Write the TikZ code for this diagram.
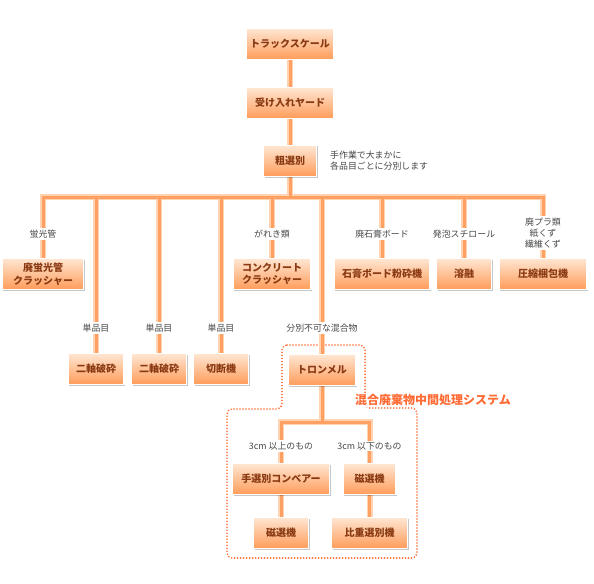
\documentclass[tikz,border=0pt]{standalone}
\usepackage{fontspec}
\setmainfont{Noto Sans CJK JP}
\usetikzlibrary{shadows}
\definecolor{lnLight}{HTML}{FFD2B2}
\definecolor{lnCore}{HTML}{FFA063}
\definecolor{boxTop}{HTML}{FFE6D2}
\definecolor{boxBot}{HTML}{FF9C5A}
\definecolor{boxText}{HTML}{8A3A12}
\definecolor{lblText}{HTML}{474747}
\definecolor{frameCol}{HTML}{FF6A33}
\pgfdeclarelayer{background}
\pgfsetlayers{background,main}
\tikzset{
  box/.style={draw=white, line width=1.5bp, top color=boxTop, bottom color=boxBot,
    drop shadow={shadow xshift=1bp, shadow yshift=-1bp, fill=black, opacity=.22},
    text=boxText, font=\fontsize{10bp}{12.5bp}\selectfont\bfseries,
    minimum height=31bp, inner sep=0pt, align=center},
  lbl/.style={fill=white, text=lblText, font=\fontsize{8.9bp}{11bp}\selectfont,
    inner sep=1.5bp, align=center},
  note/.style={text=lblText, font=\fontsize{8.9bp}{11bp}\selectfont,
    inner sep=0pt, align=left},
  frame/.style={draw=frameCol, line width=1.8bp, dash pattern=on 0bp off 3bp,
    line cap=round, rounded corners=5bp},
  syslbl/.style={text=frameCol, font=\fontsize{12bp}{13bp}\selectfont\bfseries, inner sep=0pt},
  lnA/.style={color=lnLight, line width=6bp},
  lnB/.style={color=lnCore, line width=3bp}
}
\newcommand\conns{%
  \draw (truck) -- (yard);
  \draw (yard) -- (sort);
  \draw (sort) -- (sort |- bar);
  \draw (fluo.north) -- (fluo.north |- bar) -- (comp.north |- bar) -- (comp.north);
  \foreach \n in {biax1,biax2,cut,conc,tromm,gyp,melt} \draw (\n.north |- bar) -- (\n.north);
  \draw (tromm) -- (tromm |- split);
  \draw (hand.north) -- (hand.north |- split) -- (mag1.north |- split) -- (mag1.north);
  \draw (hand) -- (mag2);
  \draw (mag1) -- (grav);
}
\begin{document}
\begin{tikzpicture}[x=1bp,y=-1bp]
\useasboundingbox (0,0) rectangle (594,584);
% boxes
\node[box, minimum width=88bp] (truck) at (290,44) {トラックスケール};
\node[box, minimum width=88bp] (yard) at (290,103) {受け入れヤード};
\node[box, minimum width=53bp] (sort) at (290,161) {粗選別};
\node[box, minimum width=81bp] (fluo) at (43,274) {廃蛍光管\\クラッシャー};
\node[box, minimum width=78bp] (conc) at (272,274) {コンクリート\\クラッシャー};
\node[box, minimum width=96bp] (gyp) at (382,274) {石膏ボード粉砕機};
\node[box, minimum width=55bp] (melt) at (464,274) {溶融};
\node[box, minimum width=88bp] (comp) at (543,274) {圧縮梱包機};
\node[box, minimum width=56bp] (biax1) at (96,369) {二軸破砕};
\node[box, minimum width=55bp] (biax2) at (159,369) {二軸破砕};
\node[box, minimum width=55bp] (cut) at (221,369) {切断機};
\node[box, minimum width=68bp] (tromm) at (322,370) {トロンメル};
\node[box, minimum width=97bp] (hand) at (281,479) {手選別コンベアー};
\node[box, minimum width=53bp] (mag1) at (369.5,479) {磁選機};
\node[box, minimum width=55bp] (mag2) at (281,533) {磁選機};
\node[box, minimum width=76bp] (grav) at (369.5,533) {比重選別機};
\coordinate (bar) at (290,197);
\coordinate (split) at (322,422);
% frame and connectors
\begin{pgfonlayer}{background}
\fill[white] (0,0) rectangle (594,584);
\draw[frame] (282,345) -- (365,345) -- (365,408) -- (417,408) -- (417,558)
  -- (227,558) -- (227,409) -- (282,409) -- cycle;
\begin{scope}[lnA]\conns\end{scope}
\begin{scope}[lnB]\conns\end{scope}
\end{pgfonlayer}
% labels
\node[note, anchor=north west] (memo) at (330,151) {手作業で大まかに\\各品目ごとに分別します};
\node[lbl] (l1) at (fluo.north |- 0,234) {蛍光管};
\node[lbl] (l2) at (conc.north |- 0,234) {がれき類};
\node[lbl] (l3) at (gyp.north |- 0,234) {廃石膏ボード};
\node[lbl] (l4) at (melt.north |- 0,234) {発泡スチロール};
\node[lbl] (l5) at (comp.north |- 0,233) {廃プラ類\\紙くず\\繊維くず};
\node[lbl] (l6) at (biax1.north |- 0,328) {単品目};
\node[lbl] (l7) at (biax2.north |- 0,328) {単品目};
\node[lbl] (l8) at (cut.north |- 0,328) {単品目};
\node[lbl] (l9) at (tromm.north |- 0,328) {分別不可な混合物};
\node[lbl] (l10) at (hand.north |- 0,446) {3cm 以上のもの};
\node[lbl] (l11) at (mag1.north |- 0,446) {3cm 以下のもの};
\node[syslbl, fill=white, inner sep=1bp] (sys) at (433,400) {混合廃棄物中間処理システム};
\end{tikzpicture}
\end{document}
